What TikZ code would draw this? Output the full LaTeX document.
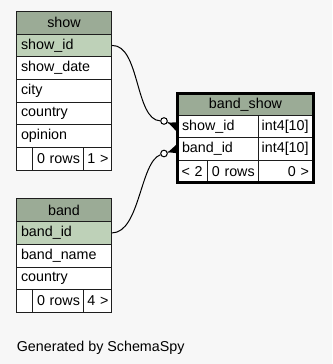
\documentclass[tikz,border=0pt]{standalone}
\usepackage{fontspec}
\setmainfont{Liberation Sans}
\usetikzlibrary{calc}
\definecolor{bgcol}{HTML}{F7F7F7}
\definecolor{headcol}{HTML}{9BAB96}
\definecolor{keycol}{HTML}{BED1B8}
\definecolor{rulecol}{HTML}{1E1E1E}
\newcommand\tabfont{\fontsize{14.3}{17}\selectfont}

\begin{document}
\begin{tikzpicture}[x=1pt,y=-1pt,
  cell/.style={draw=rulecol, line width=1pt, fill=white, anchor=north west,
    inner xsep=4.5pt, inner ysep=0pt, minimum height=22.7pt,
    text width=#1, align=left, font=\tabfont},
  keycell/.style={cell=#1, fill=keycol},
  headcell/.style={cell=#1, fill=headcol, align=center},
  rcell/.style={cell=#1, align=right},
  conn/.style={draw=black, line width=1pt},
  ring/.style={circle, draw=black, fill=white, line width=1pt, minimum size=6.6pt, inner sep=0pt},
  crow/.style={fill=black}
]
% canvas
\fill[bgcol] (0,0) rectangle (332,364);
\useasboundingbox (0,0) rectangle (332,364);

% table: show
\node[headcell=86pt, minimum height=22.6pt] (show-h) at (16,11) {show};
\node[keycell=86pt] (show-id) at (16,33.6) {show\_id};
\node[cell=86pt] (show-date) at (16,56.3) {show\_date};
\node[cell=86pt] (show-city) at (16,79) {city};
\node[cell=86pt] (show-country) at (16,101.7) {country};
\node[cell=86pt] (show-opinion) at (16,124.4) {opinion};
\node[cell=7pt] (show-f1) at (16,147.1) {};
\node[cell=42.3pt] (show-f2) at (32,147.1) {\mbox{0 rows}};
\node[cell=20.7pt, inner xsep=3.5pt] (show-f3) at (83.3,147.1) {\mbox{1 >}};

% table: band
\node[headcell=86pt, minimum height=22.7pt] (band-h) at (16,198.4) {band};
\node[keycell=86pt] (band-id) at (16,221.1) {band\_id};
\node[cell=86pt] (band-name) at (16,243.8) {band\_name};
\node[cell=86pt] (band-country) at (16,266.5) {country};
\node[cell=7pt] (band-f1) at (16,289.2) {};
\node[cell=42.3pt] (band-f2) at (32,289.2) {\mbox{0 rows}};
\node[cell=20.7pt, inner xsep=3.5pt] (band-f3) at (83.3,289.2) {\mbox{4 >}};

% table: band_show
\node[headcell=126pt, minimum height=20.8pt] (bs-h) at (177.5,93.8) {band\_show};
\node[cell=72.2pt, inner xsep=4pt] (bs-show) at (177.5,114.6) {show\_id};
\node[cell=47.8pt, inner xsep=3.5pt] (bs-show-t) at (257.7,114.6) {int4[10]};
\node[cell=72.2pt, inner xsep=4pt] (bs-band) at (177.5,137.3) {band\_id};
\node[cell=47.8pt, inner xsep=3.5pt] (bs-band-t) at (257.7,137.3) {int4[10]};
\node[cell=22.8pt, inner xsep=3.5pt, minimum height=21.8pt] (bs-f1) at (177.5,160) {\mbox{< 2}};
\node[cell=42.4pt, inner xsep=4pt, minimum height=21.8pt] (bs-f2) at (207.3,160) {\mbox{0 rows}};
\node[rcell=46.8pt, inner xsep=4pt, minimum height=21.8pt] (bs-f3) at (257.7,160) {\mbox{0 >}};

% relationships
\node[ring] (c1) at (164,121) {};
\node[ring] (c2) at (164,153.5) {};
\draw[conn] (show-id.east) .. controls (140,44.7) and (135,120) .. (c1);
\draw[conn] (band-id.east) .. controls (140,232.5) and (140,162) .. (c2);
\draw[conn] (c1) -- (bs-show.west);
\draw[conn] (c2) -- (bs-band.west);
\fill[crow] ($(c1)!0.3!(bs-show.west)$) -- ($(bs-show.west)!4.5pt!90:(c1)$) -- ($(bs-show.west)!4.5pt!-90:(c1)$) -- cycle;
\fill[crow] ($(c2)!0.3!(bs-band.west)$) -- ($(bs-band.west)!4.5pt!90:(c2)$) -- ($(bs-band.west)!4.5pt!-90:(c2)$) -- cycle;

% heavy frame of the focus table
\draw[black, line width=3pt] (bs-h.north west) rectangle (bs-f3.south east);

% footer
\node[anchor=base west, font=\tabfont, inner sep=0pt] (footer) at (16.6,351.5) {Generated by SchemaSpy};
\end{tikzpicture}
\end{document}
